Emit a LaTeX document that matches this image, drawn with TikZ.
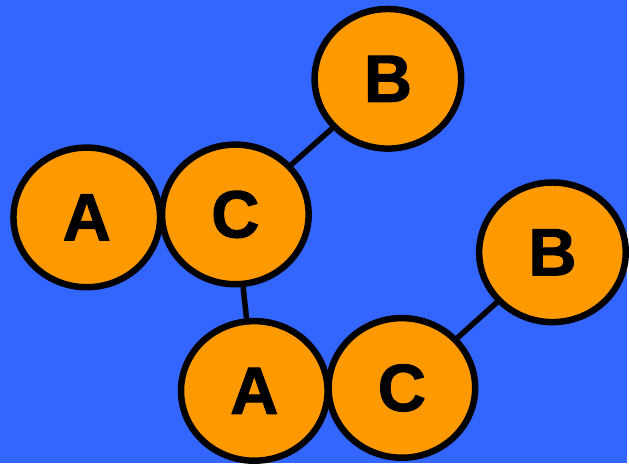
\documentclass[tikz,border=0pt]{standalone}
\usepackage{fontspec}
\setmainfont{Liberation Sans}[BoldFeatures={FakeBold=1.5}]
\usetikzlibrary{shapes.geometric, backgrounds}
\definecolor{SkyBlue}{HTML}{3366FF}
\definecolor{Tangerine}{HTML}{FF9900}

\tikzset{
    atom/.style={ellipse, draw=black, line width=6.5pt, fill=Tangerine,
                 minimum width=147pt, minimum height=140pt, inner sep=0pt,
                 line join=round, line cap=round,
                 font=\fontsize{67}{67}\selectfont\bfseries},
    bond/.style={draw=black, line width=5.5pt}
}

\begin{document}
\begin{tikzpicture}[x=1pt, y=-1pt]
    % Upper chain
    \node[atom] (a1) at (87,218) {A};
    \node[atom] (c1) at (236,215) {C};
    \node[atom] (b1) at (389,79) {B};

    % Lower chain
    \node[atom] (a2) at (255,392) {A};
    \node[atom] (c2) at (403,389) {C};
    \node[atom] (b2) at (554,253) {B};

    % Bonds and backdrop
    \begin{scope}[on background layer]
        \fill[SkyBlue] (0,0) rectangle (629,464);
        \draw[bond] (c1) -- (b1);
        \draw[bond] (c1) -- (a2);
        \draw[bond] (c2) -- (b2);
    \end{scope}
\end{tikzpicture}
\end{document}
